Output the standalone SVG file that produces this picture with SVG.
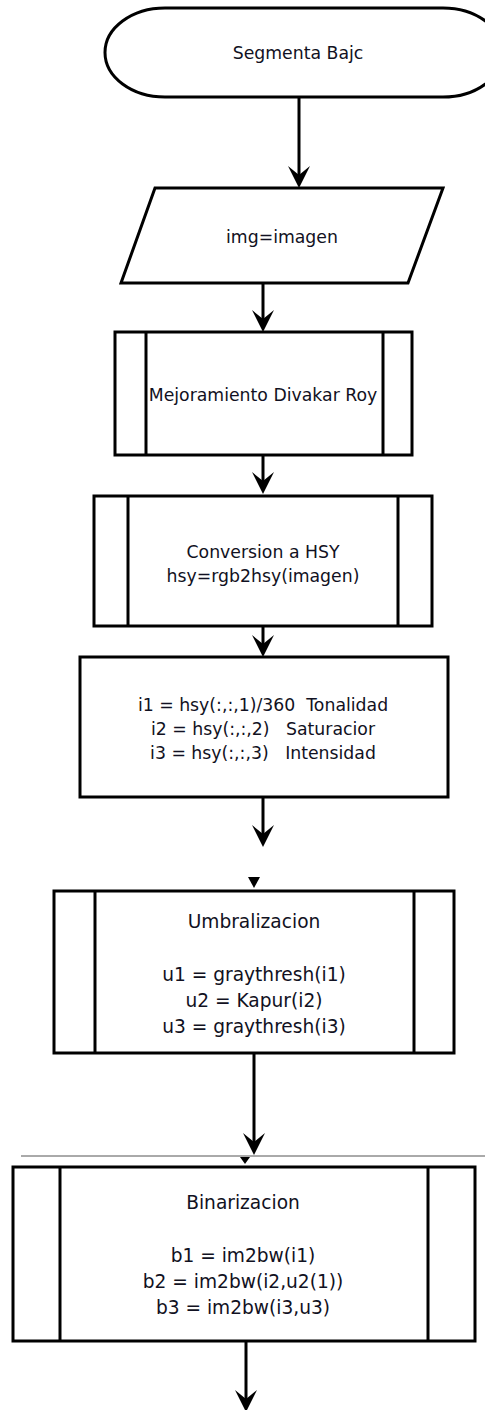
<svg xmlns="http://www.w3.org/2000/svg" width="485" height="1410" viewBox="0 0 485 1410">
  <style>
    .shape { fill: #ffffff; stroke: #000000; stroke-width: 3; }
    .bar { fill: none; stroke: #000000; stroke-width: 3; }
    .edge { fill: none; stroke: #000000; stroke-width: 3; }
    .head { fill: #000000; stroke: none; }
    .label { font-family: "DejaVu Sans", Verdana, sans-serif; font-size: 17.3px; fill: #111122; text-anchor: middle; }
    .label2 { font-family: "DejaVu Sans", Verdana, sans-serif; font-size: 18.6px; fill: #111122; text-anchor: middle; }
  </style>
  <defs>
    <!-- notched arrowhead, tip at origin pointing down -->
    <path id="arrowDown" class="head" d="M0,0 L-11,-22 L0,-13 L11,-22 Z"/>
  </defs>
  <rect width="485" height="1410" fill="#ffffff"/>

  <!-- connectors -->
  <g id="connectors">
    <line class="edge" x1="299" y1="97" x2="299" y2="176"/>
    <use href="#arrowDown" x="299" y="188"/>
    <line class="edge" x1="263" y1="283" x2="263" y2="320"/>
    <use href="#arrowDown" x="263" y="332"/>
    <line class="edge" x1="263" y1="455" x2="263" y2="481"/>
    <use href="#arrowDown" x="263" y="494"/>
    <line class="edge" x1="263" y1="626" x2="263" y2="645"/>
    <use href="#arrowDown" x="263" y="657"/>
    <line class="edge" x1="263" y1="797" x2="263" y2="835"/>
    <use href="#arrowDown" x="263" y="847"/>
    <path class="head" d="M248,877 L260,877 L254,888 Z"/>
    <line class="edge" x1="254" y1="1053" x2="254" y2="1143"/>
    <use href="#arrowDown" x="254" y="1155"/>
    <line x1="21" y1="1156" x2="485" y2="1156" stroke="#555555" stroke-width="1"/>
    <path class="head" d="M240,1157 L250,1157 L245,1164 Z"/>
    <line class="edge" x1="246" y1="1341" x2="246" y2="1400"/>
    <use href="#arrowDown" x="246" y="1412"/>
  </g>

  <!-- start terminal (right end runs past the page edge) -->
  <g id="start">
    <path class="shape" d="M165,8 L443,8 A60,44.5 0 0 1 443,97 L165,97 A60,44.5 0 0 1 165,8 Z"/>
    <text class="label" x="298" y="59">Segmenta Bajc</text>
  </g>

  <!-- input -->
  <g id="input">
    <path class="shape" d="M155,188 L443,188 L408,283 L121,283 Z"/>
    <text class="label" x="282" y="243">img=imagen</text>
  </g>

  <!-- enhancement subprocess -->
  <g id="enhance">
    <rect class="shape" x="115" y="332" width="297" height="123"/>
    <line class="bar" x1="146" y1="332" x2="146" y2="455"/>
    <line class="bar" x1="383" y1="332" x2="383" y2="455"/>
    <text class="label" x="263" y="401">Mejoramiento Divakar Roy</text>
  </g>

  <!-- colour space conversion subprocess -->
  <g id="convert">
    <rect class="shape" x="94" y="496" width="338" height="130"/>
    <line class="bar" x1="128" y1="496" x2="128" y2="626"/>
    <line class="bar" x1="398" y1="496" x2="398" y2="626"/>
    <text class="label" x="263" y="558">Conversion a HSY</text>
    <text class="label" x="263" y="582">hsy=rgb2hsy(imagen)</text>
  </g>

  <!-- channel extraction -->
  <g id="channels">
    <rect class="shape" x="80" y="657" width="368" height="140"/>
    <text class="label" x="263" y="711" xml:space="preserve">i1 = hsy(:,:,1)/360  Tonalidad</text>
    <text class="label" x="263" y="735" xml:space="preserve">i2 = hsy(:,:,2)   Saturacior</text>
    <text class="label" x="263" y="759" xml:space="preserve">i3 = hsy(:,:,3)   Intensidad</text>
  </g>

  <!-- thresholding subprocess -->
  <g id="threshold">
    <rect class="shape" x="54" y="891" width="400" height="162"/>
    <line class="bar" x1="95" y1="891" x2="95" y2="1053"/>
    <line class="bar" x1="414" y1="891" x2="414" y2="1053"/>
    <text class="label2" x="254" y="928">Umbralizacion</text>
    <text class="label2" x="254" y="981">u1 = graythresh(i1)</text>
    <text class="label2" x="254" y="1007">u2 = Kapur(i2)</text>
    <text class="label2" x="254" y="1033">u3 = graythresh(i3)</text>
  </g>

  <!-- binarisation subprocess -->
  <g id="binarize">
    <rect class="shape" x="13" y="1167" width="462" height="174"/>
    <line class="bar" x1="60" y1="1167" x2="60" y2="1341"/>
    <line class="bar" x1="428" y1="1167" x2="428" y2="1341"/>
    <text class="label2" x="243" y="1209">Binarizacion</text>
    <text class="label2" x="243" y="1262">b1 = im2bw(i1)</text>
    <text class="label2" x="243" y="1288">b2 = im2bw(i2,u2(1))</text>
    <text class="label2" x="243" y="1314">b3 = im2bw(i3,u3)</text>
  </g>
</svg>
